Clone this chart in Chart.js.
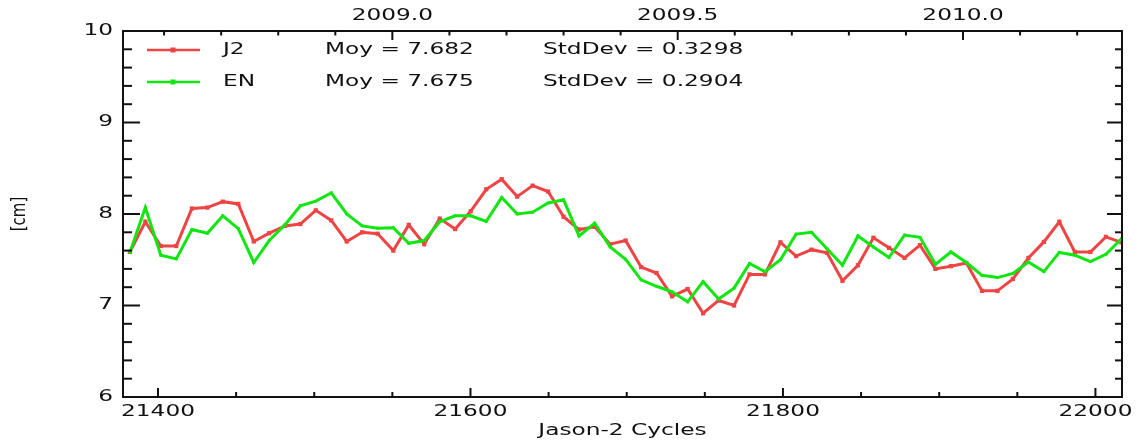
<!DOCTYPE html>
<html>
<head>
<meta charset="utf-8">
<script src="https://cdn.jsdelivr.net/npm/chart.js@4/dist/chart.umd.min.js"></script>
<style>
  html, body { margin: 0; padding: 0; background: #fff; }
  #wrap { width: 1140px; height: 441px; }
</style>
</head>
<body>
<div id="wrap"><canvas id="chart" width="1140" height="441"></canvas></div>
<script>
// cycle dates (CNES julian days)
const days = [
  21382.0, 21391.9, 21401.8, 21411.7, 21421.7, 21431.6, 21441.5, 21451.4, 21461.3, 21471.2,
  21481.2, 21491.1, 21501.0, 21510.9, 21520.8, 21530.7, 21540.6, 21550.6, 21560.5, 21570.4,
  21580.3, 21590.2, 21600.1, 21610.1, 21620.0, 21629.9, 21639.8, 21649.7, 21659.6, 21669.5,
  21679.5, 21689.4, 21699.3, 21709.2, 21719.1, 21729.0, 21739.0, 21748.9, 21758.8, 21768.7,
  21778.6, 21788.5, 21798.4, 21808.4, 21818.3, 21828.2, 21838.1, 21848.0, 21857.9, 21867.9,
  21877.8, 21887.7, 21897.6, 21907.5, 21917.4, 21927.4, 21937.3, 21947.2, 21957.1, 21967.0,
  21976.9, 21986.8, 21996.8, 22006.7, 22016.6
];

const j2 = [
  7.585, 7.915, 7.65, 7.65, 8.06, 8.07, 8.135, 8.11, 7.70, 7.79,
  7.87, 7.89, 8.04, 7.93, 7.70, 7.80, 7.785, 7.60, 7.88, 7.67,
  7.95, 7.835, 8.03, 8.27, 8.38, 8.19, 8.31, 8.245, 7.97, 7.83,
  7.86, 7.67, 7.71, 7.42, 7.355, 7.10, 7.18, 6.915, 7.055, 7.00,
  7.34, 7.34, 7.69, 7.54, 7.61, 7.575, 7.27, 7.44, 7.74, 7.63,
  7.52, 7.66, 7.40, 7.43, 7.465, 7.16, 7.16, 7.29, 7.52, 7.695,
  7.915, 7.585, 7.585, 7.75, 7.69
];

const en = [
  7.58, 8.07, 7.55, 7.51, 7.83, 7.79, 7.98, 7.84, 7.47, 7.71,
  7.88, 8.09, 8.14, 8.23, 8.00, 7.87, 7.845, 7.85, 7.68, 7.71,
  7.915, 7.98, 7.98, 7.92, 8.18, 8.00, 8.02, 8.12, 8.155, 7.76,
  7.90, 7.64, 7.505, 7.28, 7.21, 7.15, 7.04, 7.26, 7.07, 7.19,
  7.46, 7.37, 7.50, 7.78, 7.80, 7.62, 7.44, 7.76, 7.64, 7.525,
  7.77, 7.745, 7.45, 7.585, 7.47, 7.33, 7.305, 7.35, 7.475, 7.37,
  7.58, 7.55, 7.48, 7.56, 7.73
];

const seriesNames = ["J2", "EN"];
const seriesMeans = ["7.682", "7.675"];
const seriesStd = ["0.3298", "0.2904"];
const seriesColors = ["#ee4444", "#11e611"];

const yTickLabels = ["6", "7", "8", "9", "10"];
const xTickLabels = ["21400", "21600", "21800", "22000"];
const yearTickLabels = ["2009.0", "2009.5", "2010.0"];

const X_MIN = 21377.6, X_MAX = 22017;
const SX = 1.55; // text in the original is stretched horizontally
const FONT = '15px "DejaVu Sans", sans-serif';

const dayOfYear = yr => 21550 + (yr - 2009) * 365.25;

function stretchedText(ctx, s, x, y, align) {
  ctx.save();
  ctx.translate(x, y);
  ctx.scale(SX, 1);
  ctx.textAlign = align;
  ctx.textBaseline = "middle";
  ctx.fillText(s, 0, 0);
  ctx.restore();
}

function tickLine(ctx, x1, y1, x2, y2) {
  ctx.beginPath();
  ctx.moveTo(x1, y1);
  ctx.lineTo(x2, y2);
  ctx.stroke();
}

const framePlugin = {
  id: "frame",
  afterDatasetsDraw(chart) {
    const { ctx, chartArea: a, scales } = chart;
    const x = scales.x, y = scales.y;
    ctx.save();
    ctx.strokeStyle = "#111";
    ctx.fillStyle = "#111";
    ctx.lineWidth = 2;
    ctx.strokeRect(a.left, a.top, a.right - a.left, a.bottom - a.top);

    // left / right ticks, every 0.2 cm
    for (let k = 0; k <= 20; k++) {
      const py = y.getPixelForValue(6 + k * 0.2);
      const major = k % 5 === 0;
      tickLine(ctx, a.left, py, a.left + (major ? 17 : 9), py);
      tickLine(ctx, a.right - (major ? 15 : 7), py, a.right, py);
    }
    // bottom ticks, every 50 days
    for (let d = 21400; d <= 22000; d += 50) {
      const px = x.getPixelForValue(d);
      tickLine(ctx, px, a.bottom, px, a.bottom - (d % 200 === 0 ? 9 : 5));
    }
    // top ticks, every 0.1 year
    for (let k = 20086; k <= 20102; k++) {
      const px = x.getPixelForValue(dayOfYear(k / 10));
      tickLine(ctx, px, a.top, px, a.top + (k % 5 === 0 ? 9 : 4.5));
    }

    ctx.font = FONT;
    yTickLabels.forEach(t => {
      stretchedText(ctx, t, 113, y.getPixelForValue(+t), "right");
    });
    xTickLabels.forEach(t => {
      stretchedText(ctx, t, x.getPixelForValue(+t), 412, "center");
    });
    yearTickLabels.forEach(t => {
      stretchedText(ctx, t, x.getPixelForValue(dayOfYear(+t)), 16, "center");
    });
    stretchedText(ctx, "Jason-2 Cycles", (a.left + a.right) / 2, 431, "center");

    // y title
    ctx.save();
    ctx.translate(20, (a.top + a.bottom) / 2);
    ctx.rotate(-Math.PI / 2);
    ctx.scale(1, 1.35);
    ctx.textAlign = "center";
    ctx.textBaseline = "middle";
    ctx.fillText("[cm]", 0, 0);
    ctx.restore();

    // legend box
    seriesNames.forEach((name, i) => {
      const ly = 50 + i * 32;
      ctx.strokeStyle = seriesColors[i];
      ctx.lineWidth = 2.5;
      tickLine(ctx, 147, ly, 200, ly);
      ctx.fillStyle = seriesColors[i];
      ctx.fillRect(170.5, ly - 2.5, 5, 5);
      ctx.fillStyle = "#111";
      stretchedText(ctx, name, 223, ly, "left");
      stretchedText(ctx, "Moy = " + seriesMeans[i], 325, ly, "left");
      stretchedText(ctx, "StdDev = " + seriesStd[i], 543, ly, "left");
    });
    ctx.restore();
  }
};

const toPoints = vals => vals.map((v, i) => ({ x: days[i], y: v }));

new Chart(document.getElementById("chart"), {
  type: "line",
  data: {
    datasets: [
      {
        label: seriesNames[0],
        data: toPoints(j2),
        borderColor: seriesColors[0],
        backgroundColor: seriesColors[0],
        borderWidth: 3,
        pointStyle: "rect",
        pointRadius: 3,
        pointBorderWidth: 0,
        tension: 0,
        order: 2
      },
      {
        label: seriesNames[1],
        data: toPoints(en),
        borderColor: seriesColors[1],
        backgroundColor: seriesColors[1],
        borderWidth: 3,
        pointStyle: "rect",
        pointRadius: 2,
        pointBorderWidth: 0,
        tension: 0,
        order: 1
      }
    ]
  },
  options: {
    responsive: false,
    animation: false,
    devicePixelRatio: 1,
    layout: { padding: { left: 123, right: 18, top: 31, bottom: 44 } },
    plugins: { legend: { display: false }, tooltip: { enabled: false } },
    scales: {
      x: { type: "linear", min: X_MIN, max: X_MAX, display: false },
      y: { type: "linear", min: 6, max: 10, display: false }
    }
  },
  plugins: [framePlugin]
});
</script>
</body>
</html>
